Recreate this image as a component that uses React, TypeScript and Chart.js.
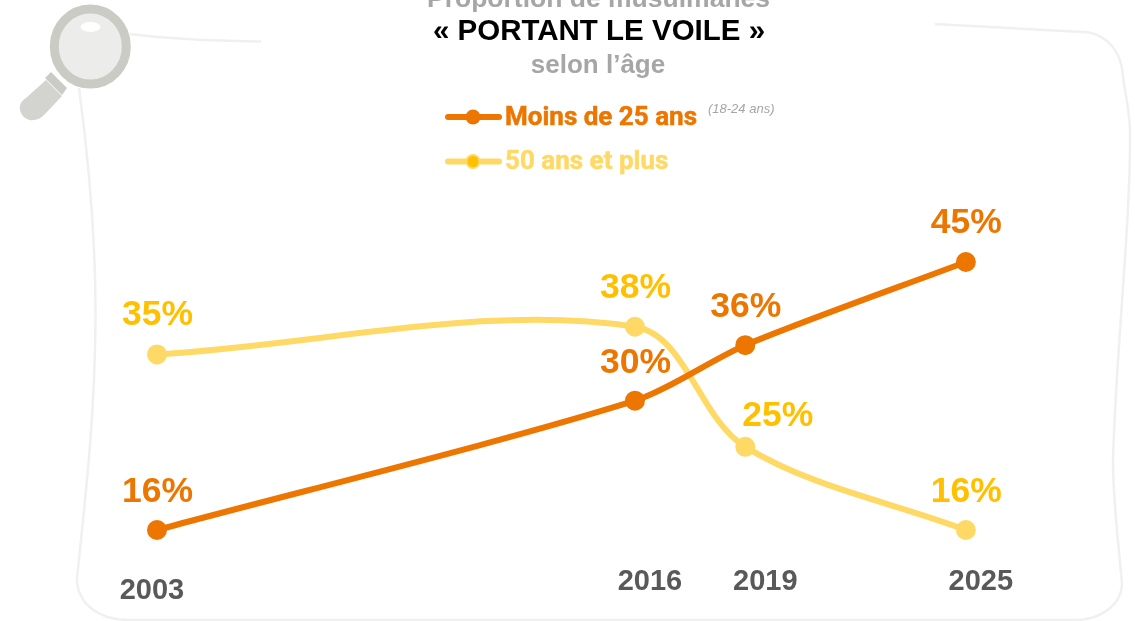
import React, { useEffect, useRef } from "react";
import { Chart, registerables } from "chart.js";

Chart.register(...registerables);

const years = [2003, 2016, 2019, 2025];
const under25 = [16, 30, 36, 45];
const over50 = [35, 38, 25, 16];
const yearLabelDrop = [9, 0, 0, 0];
const yearLabelShift = [-5, 15, 20, 15];
const under25Offsets: [number, number][] = [[0.5, -38], [0.5, -37], [0.5, -38], [0.5, -39]];
const over50Offsets: [number, number][] = [[0.5, -39], [0.5, -39], [32.5, -31], [0.5, -38]];
const ORANGE = "#EC7600";
const YELLOW = "#FFD966";
const GOLD = "#FFC000";

const textPlugin = {
  id: "texts",
  afterDatasetsDraw(chart: any) {
    const { ctx, scales } = chart;
    const x = scales.x;
    const y = scales.y;
    const put = (t: string, px: number, py: number, font: string, color: string, align: CanvasTextAlign = "center") => {
      ctx.font = font;
      ctx.fillStyle = color;
      ctx.textAlign = align;
      ctx.textBaseline = "middle";
      ctx.fillText(t, px, py);
    };
    const bold = (s: number) => `bold ${s}px "Liberation Sans"`;
    put("Proportion de musulmanes", 598.5, 0, bold(26.5), "#A6A6A6");
    put("« PORTANT LE VOILE »", 599, 32, bold(29.5), "#000000");
    put("selon l’âge", 598, 66, bold(26), "#A6A6A6");
    put("(18-24 ans)", 708, 109, 'italic 13px "Liberation Sans"', "#A6A6A6", "left");

    const legend = (label: string, py: number, line: string, dot: string, inner: string, lw: number) => {
      ctx.save();
      ctx.strokeStyle = line;
      ctx.lineWidth = lw;
      ctx.lineCap = "round";
      ctx.beginPath();
      ctx.moveTo(448, py);
      ctx.lineTo(499, py);
      ctx.stroke();
      ctx.fillStyle = dot;
      ctx.beginPath();
      ctx.arc(473, py, 7.5, 0, Math.PI * 2);
      ctx.fill();
      ctx.fillStyle = inner;
      ctx.beginPath();
      ctx.arc(473, py, 5.5, 0, Math.PI * 2);
      ctx.fill();
      put(label, 505, py + 1, 'bold 26px "Roboto"', line, "left");
      ctx.lineWidth = 0.5;
      ctx.lineCap = "butt";
      ctx.strokeText(label, 505, py + 1);
      ctx.restore();
    };
    legend("Moins de 25 ans", 117, ORANGE, ORANGE, ORANGE, 6);
    legend("50 ans et plus", 161.5, YELLOW, YELLOW, GOLD, 6);

    years.forEach((yr, i) => {
      const px = x.getPixelForValue(yr);
      put(String(yr), px + yearLabelShift[i], 582 + yearLabelDrop[i], bold(29), "#595959");
      put(`${under25[i]}%`, px + under25Offsets[i][0], y.getPixelForValue(under25[i]) + under25Offsets[i][1], bold(35.5), ORANGE);
      put(`${over50[i]}%`, px + over50Offsets[i][0], y.getPixelForValue(over50[i]) + over50Offsets[i][1], bold(35.5), GOLD);
    });
  },
};

export default function App() {
  const ref = useRef<HTMLCanvasElement>(null);
  useEffect(() => {
    const chart = new Chart(ref.current!, {
      type: "line",
      data: {
        datasets: [
          {
            label: "Moins de 25 ans",
            data: years.map((yr, i) => ({ x: yr, y: under25[i] })),
            borderColor: ORANGE,
            backgroundColor: ORANGE,
            borderWidth: 6,
            pointRadius: 7,
            tension: 0.28,
          },
          {
            label: "50 ans et plus",
            data: years.map((yr, i) => ({ x: yr, y: over50[i] })),
            borderColor: YELLOW,
            backgroundColor: YELLOW,
            borderWidth: 6,
            pointRadius: 7,
            tension: 0.34,
          },
        ],
      },
      options: {
        animation: false,
        responsive: false,
        layout: { padding: 0, autoPadding: false },
        plugins: { legend: { display: false }, tooltip: { enabled: false } },
        scales: {
          x: { type: "linear", display: false, min: 1998.73, max: 2029.6 },
          y: { type: "linear", display: false, min: 6.15, max: 73.36 },
        },
      },
      plugins: [textPlugin],
    });
    return () => chart.destroy();
  }, []);
  return (
    <div style={{ position: "absolute", left: 0, top: 0, width: 1135, height: 621, overflow: "hidden", background: "#fff" }}>
      <svg width={1135} height={621} style={{ position: "absolute", left: 0, top: 0 }}>
        <g fill="none" stroke="#F0F0F0" strokeWidth={2.5}>
          <path d="M130 34 C170 39 215 41 261 41.5" />
          <path d="M79 88 C86 140 96 230 95.5 320 C95 420 84 510 77 578 C77 605 100 620 130 620 L1075 620 C1100 620 1122 605 1122 583 C1118 540 1113 500 1113 460 C1116 350 1131 220 1130 130 C1129 105 1124 90 1122 68 C1118 45 1100 32 1083 32 L935 24" />
        </g>
        <path d="M46 80 L62 96 L45 114 C38 122 26 123 21 113 C18 106 21 101 26 98 Z" fill="#D3D3D0" />
        <path d="M45 78 L51 72 L67 88 L62 95 Z" fill="#CBCBC6" />
        <ellipse cx={90.3} cy={46.5} rx={36} ry={37.5} fill="#ECECEA" stroke="#CBCBC6" strokeWidth={9} />
        <ellipse cx={90.5} cy={27} rx={10} ry={5} fill="#FFFFFF" />
      </svg>
      <canvas ref={ref} width={1135} height={621} style={{ position: "absolute", left: 0, top: 0 }} />
    </div>
  );
}
